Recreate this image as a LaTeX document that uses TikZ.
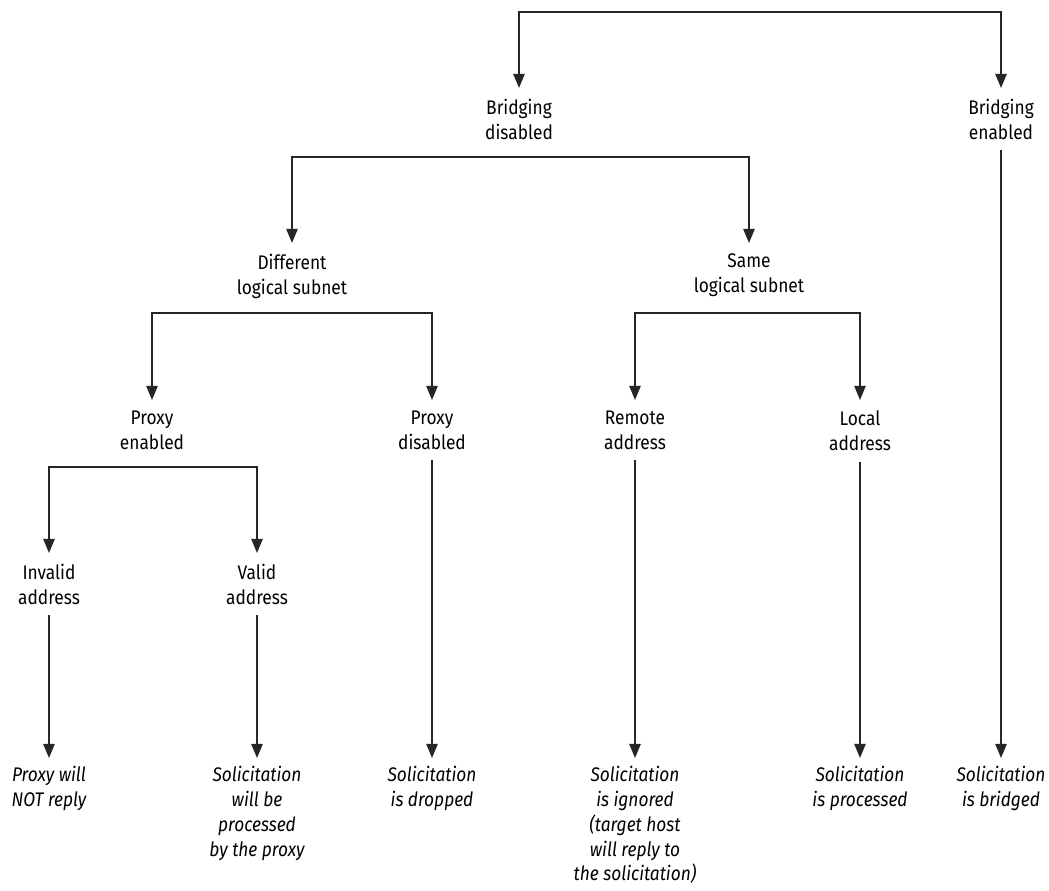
\documentclass[tikz,border=0pt]{standalone}
\usepackage{fontspec}
\setmainfont[FakeStretch=0.88]{Fira Sans}
\usetikzlibrary{arrows.meta}

\newcommand\topstrut{\rule{0pt}{11.5pt}}

\begin{document}
\begin{tikzpicture}[
  x=0.025cm, y=-0.025cm,
  every node/.style={font=\fontsize{14}{17.7}\selectfont},
  choice/.style={anchor=north, align=center, inner xsep=2pt, inner ysep=7.5pt,
    execute at begin node=\topstrut},
  outcome/.style={anchor=north, align=center, inner xsep=2pt, inner ysep=5.5pt,
    font=\fontsize{14}{17.7}\selectfont\itshape, execute at begin node=\topstrut},
  link/.style={line width=1.2pt, draw=black!85},
  >={Triangle[width=8pt,length=10pt]}
]
\useasboundingbox[fill=white] (0,0) rectangle (1049,890);

% Bridging
\node[choice] (bdis) at (519,88) {Bridging\\disabled};
\node[choice] (benb) at (1001,88) {Bridging\\enabled};
\coordinate (top) at (760,12);
\draw[link, <->] (bdis.north) |- (top) -| (benb.north);

% Subnet
\node[choice] (diff) at (292,243) {Different\\logical subnet};
\node[choice] (same) at (749,243) {Same\\logical subnet};
\coordinate (bar1) at (519,157);
\draw[link, <->] (diff.north) |- (bar1) -| (same.north);

% Proxy / address
\node[choice] (pen)  at (152,400) {Proxy\\enabled};
\node[choice] (pdis) at (432,400) {Proxy\\disabled};
\node[choice] (rem)  at (635,400) {Remote\\address};
\node[choice] (loc)  at (860,400) {Local\\address};
\coordinate (bar2) at (292,313);
\coordinate (bar3) at (749,313);
\draw[link, <->] (pen.north) |- (bar2) -| (pdis.north);
\draw[link, <->] (rem.north) |- (bar3) -| (loc.north);

\node[choice] (inv) at (49,553) {Invalid\\address};
\node[choice] (val) at (257,553) {Valid\\address};
\coordinate (bar4) at (152,467);
\draw[link, <->] (inv.north) |- (bar4) -| (val.north);

% Leaves
\node[outcome] (invout)  at (49,758)   {Proxy will\\NOT reply};
\node[outcome] (valout)  at (257,758)  {Solicitation\\will be\\processed\\by the proxy};
\node[outcome] (pdisout) at (432,758)  {Solicitation\\is dropped};
\node[outcome] (remout)  at (635,758)  {Solicitation\\is ignored\\(target host\\will reply to\\the solicitation)};
\node[outcome] (locout)  at (860,758)  {Solicitation\\is processed};
\node[outcome] (benbout) at (1001,758) {Solicitation\\is bridged};

\draw[link, ->] (inv.south)  -- (invout.north);
\draw[link, ->] (val.south)  -- (valout.north);
\draw[link, ->] (pdis.south) -- (pdisout.north);
\draw[link, ->] (rem.south)  -- (remout.north);
\draw[link, ->] (loc.south)  -- (locout.north);
\draw[link, ->] (benb.south) -- (benbout.north);
\end{tikzpicture}
\end{document}
